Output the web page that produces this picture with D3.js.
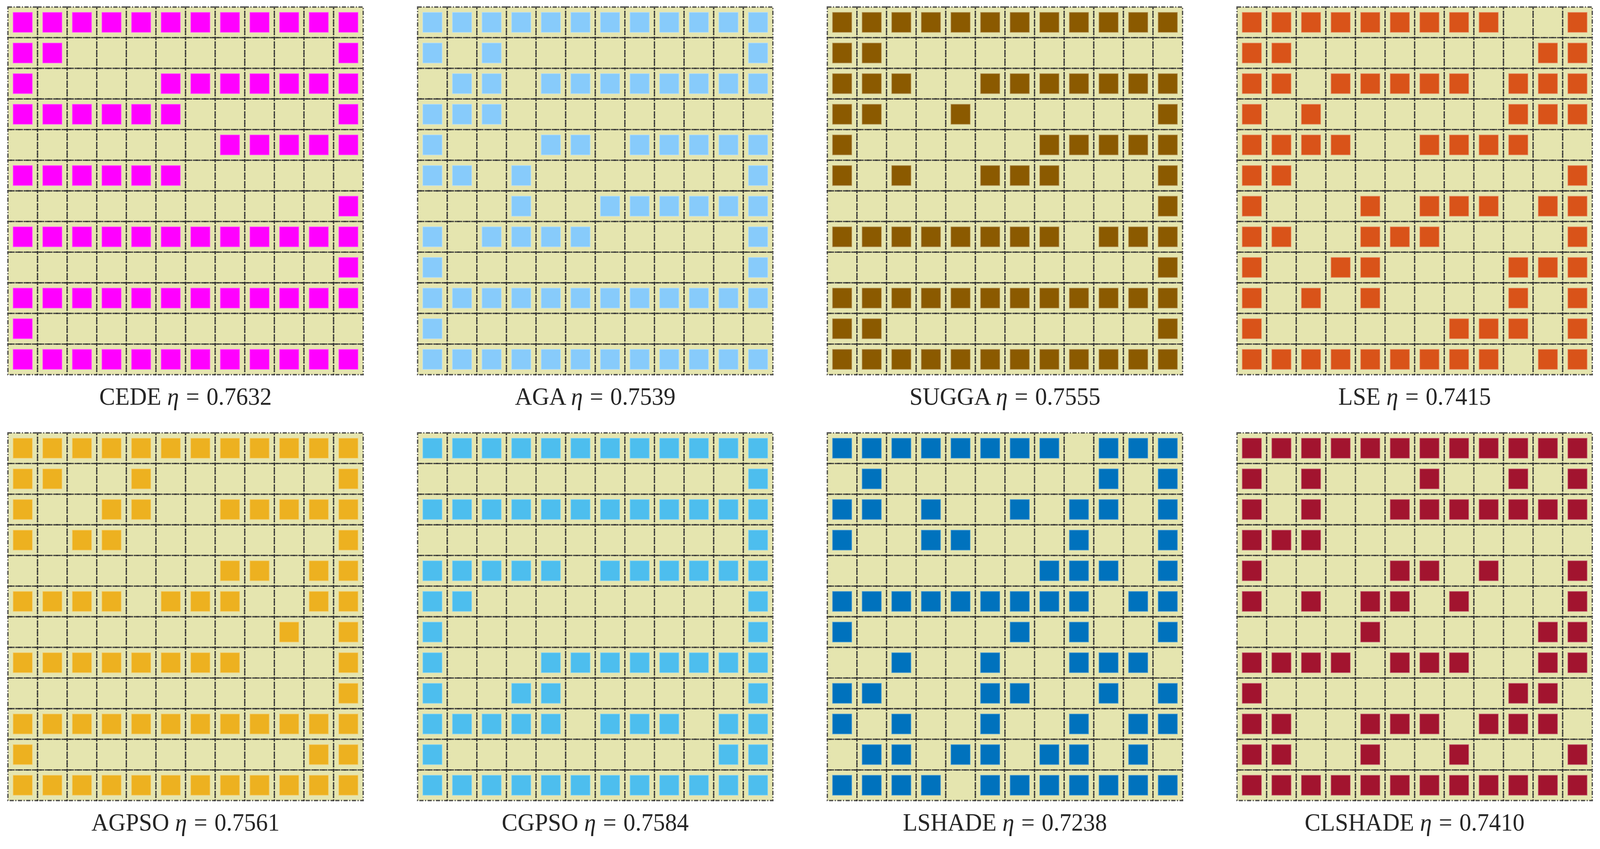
<!DOCTYPE html>
<html>
<head>
<meta charset="utf-8">
<script src="https://cdn.jsdelivr.net/npm/d3@7"></script>
<style>
  html, body { margin: 0; padding: 0; width: 100%; height: 100%; overflow: hidden; background: #fff; }
  #chart, svg { display: block; width: 100%; height: 100%; }
</style>
</head>
<body>
<div id="chart"></div>
<script>
// algorithm names, efficiency values and square colours
var names = ["CEDE", "AGA", "SUGGA", "LSE", "AGPSO", "CGPSO", "LSHADE", "CLSHADE"];
var etas = ["0.7632", "0.7539", "0.7555", "0.7415", "0.7561", "0.7584", "0.7238", "0.7410"];
var colors = ["#ff00ff", "#87cbfb", "#8b5a00", "#d95319", "#edb120", "#4dbeee", "#0072bd", "#a2142f"];

// 12x12 layouts, rows top to bottom, 1 = filled cell
var gridCEDE = [
  "111111111111", "110000000001", "100001111111", "111111000001",
  "000000011111", "111111000000", "000000000001", "111111111111",
  "000000000001", "111111111111", "100000000000", "111111111111"];
var gridAGA = [
  "111111111111", "101000000001", "011011111111", "111000000000",
  "100011011111", "110100000001", "000100111111", "101111000001",
  "100000000001", "111111111111", "100000000000", "111111111111"];
var gridSUGGA = [
  "111111111111", "110000000000", "111001111111", "110010000001",
  "100000011111", "101001110001", "000000000001", "111111110111",
  "000000000001", "111111111111", "110000000001", "111111111111"];
var gridLSE = [
  "111111111001", "110000000011", "110111110111", "101000000111",
  "111100111100", "110000000001", "100010111011", "110011100001",
  "100110000111", "101010000101", "100000011101", "111111111011"];
var gridAGPSO = [
  "111111111111", "110010000001", "100110011111", "101100000001",
  "000000011011", "111101110011", "000000000101", "111111110001",
  "000000000001", "111111111111", "100000000011", "111111111111"];
var gridCGPSO = [
  "111111111111", "000000000001", "111111111111", "000000000001",
  "111110111111", "110000000001", "100000000001", "100011111111",
  "100110000001", "111110111011", "100000000011", "111111111111"];
var gridLSHADE = [
  "111111110111", "010000000101", "110100101101", "100110001001",
  "000000011101", "111111111011", "100000101001", "001001001110",
  "110001100101", "101001001011", "011011011010", "111101111111"];
var gridCLSHADE = [
  "111111111111", "101000100101", "101001111111", "111000000000",
  "100001101001", "101011010001", "000010000011", "111101110011",
  "100000000110", "110011101110", "110010010001", "111111111111"];

var grids = [gridCEDE, gridAGA, gridSUGGA, gridLSE, gridAGPSO, gridCGPSO, gridLSHADE, gridCLSHADE];

var W = 4247, H = 2173;
var panelW = 943, panelH = 941;
var n = 12;

// viewBox stretched to the window so the drawing fills it exactly
var svg = d3.select("#chart").append("svg")
  .attr("viewBox", "0 0 " + W + " " + H)
  .attr("preserveAspectRatio", "none");

// panel placement
var px = d3.scaleLinear().domain([0, 3]).range([21, 3283.5]);
var py = d3.scaleLinear().domain([0, 1]).range([18, 1108]);

// cell scales inside one panel
var cx = d3.scaleBand().domain(d3.range(n)).range([0, panelW]);
var cy = d3.scaleBand().domain(d3.range(n)).range([0, panelH]);
var sq = cx.bandwidth() * 0.65;

names.forEach(function(name, k) {
  var g = svg.append("g")
    .attr("transform", "translate(" + px(k % 4) + "," + py(Math.floor(k / 4)) + ")");

  var cells = [];
  grids[k].forEach(function(row, r) {
    row.split("").forEach(function(v, c) {
      cells.push({ r: r, c: c, on: v === "1" });
    });
  });

  // background
  g.append("rect")
    .attr("width", panelW)
    .attr("height", panelH)
    .attr("fill", "#e5e5af");

  // filled squares
  var edge = d3.interpolateRgb(colors[k], "#ffffff")(0.35);
  g.selectAll(".sq")
    .data(cells.filter(function(d) { return d.on; }))
    .enter().append("rect")
    .attr("class", "sq")
    .attr("x", function(d) { return cx(d.c) + (cx.bandwidth() - sq) / 2; })
    .attr("y", function(d) { return cy(d.r) + (cy.bandwidth() - sq) / 2; })
    .attr("width", sq)
    .attr("height", sq)
    .attr("fill", colors[k])
    .attr("stroke", edge)
    .attr("stroke-width", 1.5);

  // dash-dot cell outlines
  g.selectAll(".cell")
    .data(cells)
    .enter().append("rect")
    .attr("class", "cell")
    .attr("x", function(d) { return cx(d.c); })
    .attr("y", function(d) { return cy(d.r); })
    .attr("width", cx.bandwidth())
    .attr("height", cy.bandwidth())
    .attr("fill", "none")
    .attr("stroke", "#333333")
    .attr("stroke-opacity", 0.85)
    .attr("stroke-width", 3.4)
    .attr("stroke-dasharray", "11,4,3,4");

  // label under the panel
  var label = g.append("text")
    .attr("x", panelW / 2)
    .attr("y", panelH + 77)
    .attr("text-anchor", "middle")
    .attr("fill", "#262626")
    .style("font-family", "'Liberation Serif', 'Times New Roman', serif")
    .style("font-size", "63px");
  label.append("tspan").text(name + " ");
  label.append("tspan").style("font-style", "italic").text("\u03b7");
  label.append("tspan").attr("dx", 3).text(" =");
  label.append("tspan").attr("dx", 3).text(" " + etas[k]);
});
</script>
</body>
</html>
